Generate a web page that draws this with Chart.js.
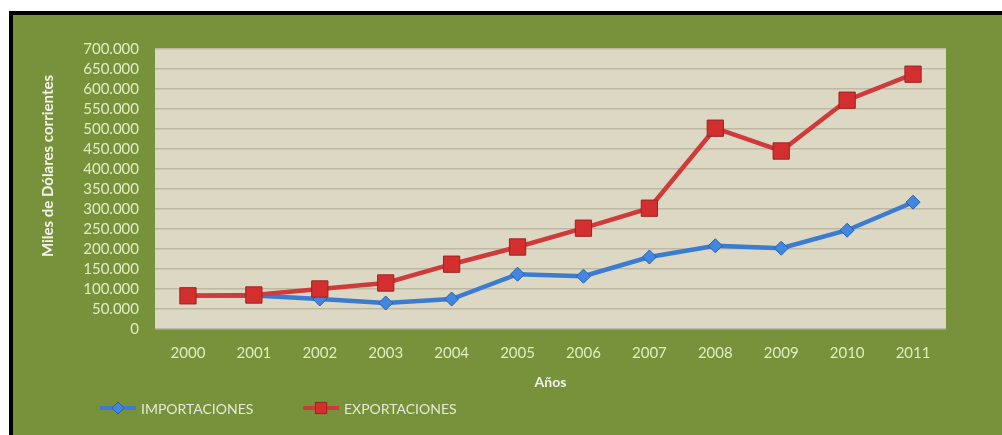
<!DOCTYPE html>
<html>
<head>
<meta charset="utf-8">
<script src="https://cdn.jsdelivr.net/npm/chart.js@4"></script>
<style>
  html, body { margin: 0; padding: 0; background: #fff; overflow: hidden; }
  #frame {
    position: absolute; left: 9px; top: 11px;
    width: 1100px; height: 500px;
    border-left: 4px solid #000; border-top: 4px solid #000;
    background: #77923b;
  }
  #chart { display: block; }
</style>
</head>
<body>
<div id="frame"><canvas id="chart" width="989" height="420"></canvas></div>
<script>
var years = ['2000', '2001', '2002', '2003', '2004', '2005', '2006', '2007', '2008', '2009', '2010', '2011'];
var importaciones = [83000, 84000, 75000, 65000, 75000, 137000, 132000, 180000, 208000, 202000, 247000, 317000];
var exportaciones = [83000, 85000, 100000, 115000, 162000, 205000, 252000, 302000, 502000, 445000, 572000, 637000];
var seriesNames = ['IMPORTACIONES', 'EXPORTACIONES'];
var yTitle = 'Miles de Dólares corrientes';
var xTitle = 'Años';
var yMax = 700000;
var yStep = 50000;

var pale = '#e3ecc2';
var fontName = 'Lato';

function miles(v) {
    return String(v).replace(/\B(?=(\d{3})+(?!\d))/g, '.');
}

// fondo del area de trazado
var plotBg = {
    id: 'plotBg',
    beforeDraw: function(chart) {
        var a = chart.chartArea, c = chart.ctx;
        c.save();
        c.fillStyle = '#dcd8c3';
        c.fillRect(a.left, a.top, a.right - a.left, a.bottom - a.top);
        c.restore();
    }
};

// titulo del eje Y, un poco por encima del centro como en Excel
var yTitlePlugin = {
    id: 'yTitlePlugin',
    afterDraw: function(chart) {
        var c = chart.ctx;
        c.save();
        c.translate(35, 151);
        c.rotate(-Math.PI / 2);
        c.fillStyle = '#f2f4ea';
        c.font = 'bold 15px ' + fontName;
        c.textAlign = 'center';
        c.textBaseline = 'middle';
        c.fillText(yTitle, 0, 0);
        c.restore();
    }
};

// leyenda al estilo Excel: linea con marcador
var excelLegend = {
    id: 'excelLegend',
    afterDraw: function(chart) {
        var c = chart.ctx;
        var y = 393;
        var items = [
            { x: 87, ds: chart.data.datasets[0] },
            { x: 290, ds: chart.data.datasets[1] }
        ];
        c.save();
        items.forEach(function(it) {
            c.strokeStyle = it.ds.borderColor;
            c.lineWidth = 4;
            c.beginPath();
            c.moveTo(it.x, y);
            c.lineTo(it.x + 36, y);
            c.stroke();
            c.fillStyle = it.ds.pointBackgroundColor;
            c.strokeStyle = it.ds.pointBorderColor;
            c.lineWidth = 1;
            Chart.helpers.drawPoint(c, {
                pointStyle: it.ds.pointStyle,
                radius: it.ds.pointStyle === 'rect' ? 8 : 6,
                borderWidth: 1
            }, it.x + 18, y);
            c.fillStyle = '#e6ead6';
            c.font = '14px ' + fontName;
            c.textBaseline = 'middle';
            c.fillText(it.ds.label, it.x + 41, y + 1);
        });
        c.restore();
    }
};

var ctx = document.getElementById('chart').getContext('2d');
var chart = new Chart(ctx, {
    type: 'line',
    data: {
        labels: years,
        datasets: [{
            label: seriesNames[0],
            data: importaciones,
            borderColor: '#3b7bd0',
            borderWidth: 4.5,
            pointStyle: 'rectRot',
            pointRadius: 7,
            pointHoverRadius: 7,
            pointBackgroundColor: '#3f87e0',
            pointBorderColor: '#2a5fa8',
            pointBorderWidth: 1,
            tension: 0,
            order: 1
        }, {
            label: seriesNames[1],
            data: exportaciones,
            borderColor: '#cf3b3b',
            borderWidth: 4.5,
            pointStyle: 'rect',
            pointRadius: 11.5,
            pointHoverRadius: 11.5,
            pointBackgroundColor: '#d42f2f',
            pointBorderColor: '#9c2222',
            pointBorderWidth: 1,
            tension: 0,
            order: 0
        }]
    },
    options: {
        responsive: false,
        animation: false,
        layout: { padding: { left: 0, top: 34, right: 56, bottom: 36 } },
        plugins: {
            legend: { display: false },
            tooltip: { enabled: false }
        },
        scales: {
            x: {
                offset: true,
                grid: { display: false, drawTicks: false },
                border: { display: false },
                ticks: { color: pale, font: { family: fontName, size: 15 }, padding: 15 },
                title: {
                    display: true, text: xTitle, color: '#f2f4ea',
                    font: { family: fontName, size: 14, weight: 'bold' },
                    padding: { top: 0, bottom: 8 }
                },
                afterFit: function(s) { s.height = 70; }
            },
            y: {
                min: 0,
                max: yMax,
                grid: { color: '#bcb8a2', lineWidth: 1.5, drawTicks: false },
                border: { display: false },
                ticks: {
                    stepSize: yStep,
                    autoSkip: false,
                    color: pale,
                    font: { family: fontName, size: 15 },
                    padding: 16,
                    callback: function(v) { return miles(v); }
                },
                afterFit: function(s) { s.width = 142; }
            }
        }
    },
    plugins: [plotBg, yTitlePlugin, excelLegend]
});
</script>
</body>
</html>
